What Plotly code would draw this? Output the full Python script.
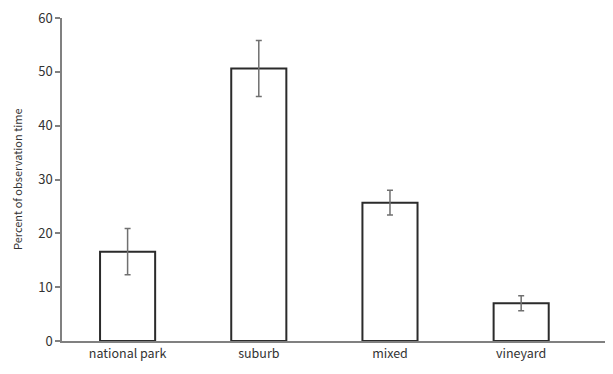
import plotly.graph_objects as go

categories = ["national park", "suburb", "mixed", "vineyard"]
values = [16.6, 50.6, 25.7, 7.0]
errors = [4.3, 5.2, 2.3, 1.4]
y_ticks = [0, 10, 20, 30, 40, 50, 60]
y_title = "Percent of observation time"

W, H = 605, 366
L, R, T, B = 54, 0, 10, 33
plot_w = W - L - R

fig = go.Figure()
fig.add_trace(go.Bar(
    x=categories, y=values,
    width=0.42,
    marker=dict(color="white", line=dict(color="#2b2b2b", width=2)),
    error_y=dict(type="data", array=errors, visible=True,
                 color="#707070", thickness=1.5, width=3),
))

fig.add_annotation(
    text=y_title, textangle=-90,
    xref="paper", yref="paper", x=(8.5 - L) / plot_w, y=0.5,
    xanchor="center", yanchor="middle", showarrow=False,
    font=dict(size=11, color="#333333"),
)

fig.update_layout(
    width=W, height=H,
    margin=dict(l=L, r=R, t=T, b=B, autoexpand=False),
    paper_bgcolor="white", plot_bgcolor="white",
    showlegend=False,
    font=dict(family="Noto Sans CJK KR, Open Sans, sans-serif", color="#404040", size=12),
    xaxis=dict(
        type="category", range=[-0.5, 3.7],
        showline=True, linecolor="#808080", linewidth=1.5,
        ticks="", showgrid=False, zeroline=False,
        tickfont=dict(size=12.5, color="#333333"),
    ),
    yaxis=dict(
        range=[0, 60], tickvals=y_ticks,
        showline=True, linecolor="#808080", linewidth=1.5,
        ticks="outside", ticklen=5, tickcolor="#808080", tickwidth=1.5,
        showgrid=False, zeroline=False, ticklabeloverflow="allow",
        tickfont=dict(size=13, color="#333333"),
    ),
)

fig.write_html("out.html")
